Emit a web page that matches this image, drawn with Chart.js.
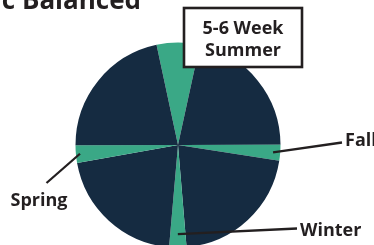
<!DOCTYPE html>
<html>
<head>
<meta charset="utf-8">
<script src="https://cdn.jsdelivr.net/npm/chart.js@4"></script>
<style>
  html, body { margin: 0; padding: 0; background: #fff; overflow: hidden; }
  #wrap { width: 374px; height: 245px; overflow: hidden; }
</style>
</head>
<body>
<div id="wrap"><canvas id="grafica" width="374" height="250"></canvas></div>
<script>
// --- Datos ---
const segmentos = ['5-6 Week Summer', 'Term 1', 'Fall', 'Term 2', 'Winter', 'Term 3', 'Spring', 'Term 4'];
const valores   = [24.4, 77.6, 9, 76.3, 9.8, 74.9, 10, 78];
const colores   = ['#3aa886', '#152b41', '#3aa886', '#152b41', '#3aa886', '#152b41', '#3aa886', '#152b41'];
const titulo    = 'c Balanced';

// etiquetas con linea guia (indice del segmento -> donde va el texto)
const guias = [
  { idx: 2, texto: 'Fall',   r: 0.93, fin: [342, 142.5], tx: 345, ty: 146, align: 'left' },
  { idx: 6, texto: 'Spring', r: 0.96, fin: [46.5, 183],  tx: 39,  ty: 206, align: 'center' },
  { idx: 4, texto: 'Winter', r: 0.87, fin: [297, 228.5], tx: 300, ty: 236, align: 'left' }
];

const FUENTE = '"Open Sans", "DejaVu Sans", sans-serif';
const TINTA  = '#231f20';

const anotaciones = {
  id: 'anotaciones',
  afterDraw(chart) {
    const ctx = chart.ctx;
    const arcos = chart.getDatasetMeta(0).data;
    ctx.save();

    // titulo cortado arriba
    ctx.fillStyle = TINTA;
    ctx.font = 'bold 26px ' + FUENTE;
    ctx.textAlign = 'right';
    ctx.textBaseline = 'alphabetic';
    ctx.fillText(titulo, 141, 9);

    // lineas guia + textos
    ctx.strokeStyle = TINTA;
    ctx.lineWidth = 2.3;
    ctx.font = 'bold 18px ' + FUENTE;
    guias.forEach(g => {
      const a = arcos[g.idx];
      const medio = (a.startAngle + a.endAngle) / 2;
      const x0 = a.x + Math.cos(medio) * a.outerRadius * g.r;
      const y0 = a.y + Math.sin(medio) * a.outerRadius * g.r;
      ctx.beginPath();
      ctx.moveTo(x0, y0);
      ctx.lineTo(g.fin[0], g.fin[1]);
      ctx.stroke();
      ctx.textAlign = g.align;
      ctx.fillText(g.texto, g.tx, g.ty);
    });

    // caja del verano
    ctx.fillStyle = '#fff';
    ctx.fillRect(184, 8, 118, 59);
    ctx.lineWidth = 2.6;
    ctx.strokeRect(184, 8, 118, 59);
    ctx.fillStyle = TINTA;
    ctx.textAlign = 'center';
    ctx.font = 'bold 18px ' + FUENTE;
    ctx.fillText('5-6 Week', 243, 34);
    ctx.fillText('Summer', 243, 56);

    ctx.restore();
  }
};

new Chart(document.getElementById('grafica'), {
  type: 'pie',
  data: {
    labels: segmentos,
    datasets: [{
      data: valores,
      backgroundColor: colores,
      borderWidth: 0
    }]
  },
  options: {
    responsive: false,
    animation: false,
    rotation: -12.1,
    layout: { padding: { left: 75.5, right: 93.5, top: 42.5, bottom: 2.5 } },
    plugins: { legend: { display: false }, tooltip: { enabled: false } }
  },
  plugins: [anotaciones]
});
</script>
</body>
</html>
